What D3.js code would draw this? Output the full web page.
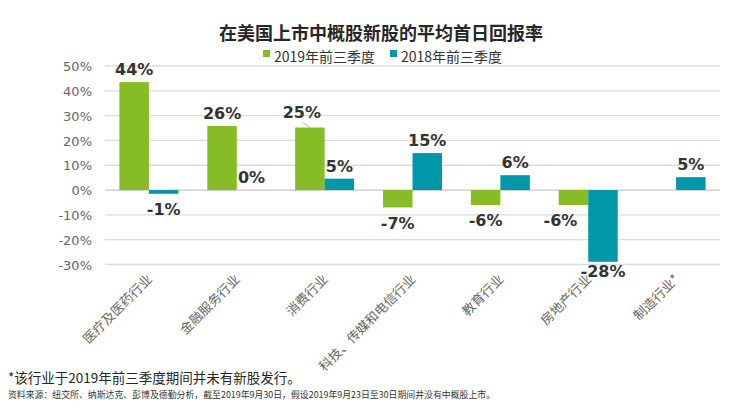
<!DOCTYPE html>
<html><head><meta charset="utf-8">
<script src="https://cdn.jsdelivr.net/npm/d3@7"></script>
<style>body{margin:0;background:#fff}svg{display:block}</style>
</head><body>
<svg id="c" width="753" height="408"></svg>
<script>
const title = "在美国上市中概股新股的平均首日回报率";
const categories = ["医疗及医药行业","金融服务行业","消费行业","科技、传媒和电信行业","教育行业","房地产行业","制造行业*"];
const seriesNames = ["2019年前三季度","2018年前三季度"];
const values2019 = [43.5, 25.8, 25.2, -7.0, -6.0, -6.0, null];
const values2018 = [-1.5, 0, 4.6, 14.9, 6.0, -28.9, 5.2];
const labels2019 = ["44%","26%","25%","-7%","-6%","-6%",null];
const labels2018 = ["-1%","0%","5%","15%","6%","-28%","5%"];
const yTicks = [50,40,30,20,10,0,-10,-20,-30];
const colors = ["#86bc25","#0097a9"];
const footnote = "*该行业于2019年前三季度期间并未有新股发行。";
const source = "资料来源：纽交所、纳斯达克、彭博及德勤分析，截至2019年9月30日，假设2019年9月23日至30日期间并没有中概股上市。";

const svg = d3.select("#c");
const cjk = "'Noto Sans CJK SC','Noto Sans',sans-serif";
const num = "'DejaVu Sans',Verdana,sans-serif";

const x0 = d3.scaleBand().domain(categories).range([105,720]).padding(0);
const bw = 29.5;
const x1 = d3.scaleBand().domain([0,1]).range([x0.bandwidth()/2 - bw, x0.bandwidth()/2 + bw]);
const y = d3.scaleLinear().domain([-30,50]).range([264.5,66]);

// title
svg.append("text").attr("x",381).attr("y",40).attr("text-anchor","middle")
  .style("font-family",cjk).style("font-size","18px").style("font-weight","bold").attr("fill","#262626").text(title);

// legend
const legX = [263, 390];
seriesNames.forEach((s,i)=>{
  svg.append("rect").attr("x",legX[i]).attr("y",50).attr("width",7).attr("height",7).attr("fill",colors[i]);
  svg.append("text").attr("x",legX[i]+11).attr("y",62).style("font-family",cjk).style("font-size","14px").attr("fill","#333").text(s);
});

// gridlines
svg.append("g").selectAll("line").data(yTicks).join("line")
  .attr("x1",105).attr("x2",720).attr("y1",d=>y(d)).attr("y2",d=>y(d))
  .attr("stroke",d=>d===0?"#c8c8c8":"#dcdcdc").attr("stroke-width",1.3);

// y axis labels
const yAxis = d3.axisLeft(y).tickValues(yTicks).tickFormat(d=>d+"%").tickSize(0).tickPadding(0);
const ya = svg.append("g").attr("transform","translate(92,0)").call(yAxis);
ya.select(".domain").remove();
ya.selectAll("text").style("font-family",num).style("font-size","13px").attr("fill","#666").attr("dy","0.36em");

// x axis labels
const xAxis = d3.axisBottom(x0).tickSize(0).tickPadding(0);
const xa = svg.append("g").attr("transform","translate(0,280)").call(xAxis);
xa.select(".domain").remove();
xa.selectAll("text").attr("y",0).attr("dy",0).attr("text-anchor","end")
  .attr("transform","translate(4,0) rotate(-45)")
  .style("font-family",cjk).style("font-size","13px").attr("fill","#666");

// bars
const data = [];
categories.forEach((c,i)=>{
  data.push({c, s:0, v:values2019[i], l:labels2019[i], i});
  data.push({c, s:1, v:values2018[i], l:labels2018[i], i});
});
const bars = data.filter(d=>d.v!==null);
svg.append("g").selectAll("rect").data(bars).join("rect")
  .attr("x",d=>x0(d.c)+x1(d.s)).attr("width",bw)
  .attr("y",d=>y(Math.max(0,d.v))).attr("height",d=>Math.abs(y(d.v)-y(0)))
  .attr("fill",d=>colors[d.s]);

// value labels
const leader = {c:2,s:0};      // label with leader line
const shiftLeft = {c:5,s:0};   // label nudged to avoid neighbour
svg.append("g").selectAll("text").data(data.filter(d=>d.l!==null)).join("text")
  .attr("x",d=>{
    let cx = x0(d.c)+x1(d.s)+bw/2;
    if(d.i===leader.c && d.s===leader.s) cx -= 8;
    if(d.i===shiftLeft.c && d.s===shiftLeft.s) cx -= 13;
    return cx;
  })
  .attr("y",d=>{
    if(d.v>=0){
      const off = (d.i===leader.c && d.s===leader.s) ? 10 : 7;
      return y(d.v)-off;
    }
    return Math.min(y(d.v)+21.5, y(-30)+12);
  })
  .attr("text-anchor","middle").style("font-family",num).style("font-size","16px").style("font-weight","bold")
  .attr("fill","#333").text(d=>d.l);

// leader line
{
  const cx = x0(categories[leader.c])+x1(leader.s)+bw/2;
  const v = values2019[leader.c];
  svg.append("line").attr("x1",cx-7).attr("y1",y(v)-5).attr("x2",cx).attr("y2",y(v))
    .attr("stroke","#999").attr("stroke-width",0.8);
}

// footnotes
svg.append("text").attr("x",8).attr("y",383).style("font-family",cjk).style("font-size","13.5px").attr("fill","#262626").text(footnote);
svg.append("text").attr("x",8).attr("y",397.5).style("font-family",cjk).style("font-size","8.9px").attr("fill","#333").text(source);
</script>
</body></html>
